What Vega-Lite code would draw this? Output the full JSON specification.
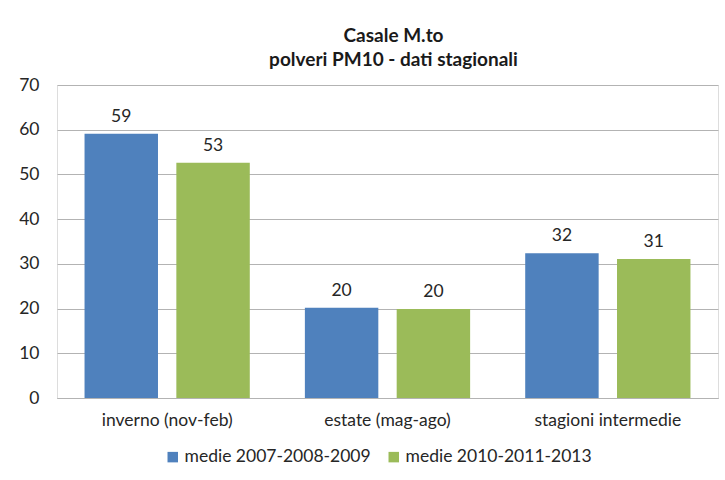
{
  "$schema": "https://vega.github.io/schema/vega-lite/v6.json",
  "autosize": {"type": "none"},
  "padding": {"left": 57, "top": 85, "right": 7, "bottom": 82},
  "width": 661,
  "height": 313,
  "background": "white",
  "title": {
    "text": ["Casale M.to", "polveri PM10 - dati stagionali"],
    "font": "Lato",
    "fontSize": 19,
    "fontWeight": "bold",
    "color": "#1a1a1a",
    "lineHeight": 24,
    "anchor": "middle",
    "offset": 6,
    "dx": 6
  },
  "data": {
    "values": [
      {"stagione": "inverno (nov-feb)", "serie": "medie 2007-2008-2009", "valore": 59.1},
      {"stagione": "inverno (nov-feb)", "serie": "medie 2010-2011-2013", "valore": 52.6},
      {"stagione": "estate (mag-ago)", "serie": "medie 2007-2008-2009", "valore": 20.2},
      {"stagione": "estate (mag-ago)", "serie": "medie 2010-2011-2013", "valore": 19.9},
      {"stagione": "stagioni intermedie", "serie": "medie 2007-2008-2009", "valore": 32.4},
      {"stagione": "stagioni intermedie", "serie": "medie 2010-2011-2013", "valore": 31.1}
    ]
  },
  "encoding": {
    "x": {
      "field": "stagione",
      "type": "nominal",
      "sort": ["inverno (nov-feb)", "estate (mag-ago)", "stagioni intermedie"],
      "scale": {"paddingInner": 0.25, "paddingOuter": 0.125},
      "axis": {
        "title": null,
        "labelAngle": 0,
        "ticks": false,
        "domainColor": "#b3b3b3",
        "domainWidth": 1,
        "labelPadding": 13,
        "labelFont": "Lato",
        "labelFontSize": 17.5,
        "labelColor": "#262626",
        "labelLimit": 300
      }
    },
    "xOffset": {
      "field": "serie",
      "type": "nominal",
      "scale": {"paddingInner": 0.2}
    },
    "y": {
      "field": "valore",
      "type": "quantitative",
      "scale": {"domain": [0, 70]},
      "axis": {
        "title": null,
        "values": [0, 10, 20, 30, 40, 50, 60, 70],
        "ticks": false,
        "domain": false,
        "gridColor": "#b3b3b3",
        "gridWidth": 1,
        "labelPadding": 18,
        "labelFont": "Lato",
        "labelFontSize": 17.5,
        "labelColor": "#262626"
      }
    }
  },
  "layer": [
    {
      "mark": {"type": "bar"},
      "encoding": {
        "color": {
          "field": "serie",
          "type": "nominal",
          "scale": {"range": ["#4F81BD", "#9BBB59"]},
          "legend": {
            "title": null,
            "orient": "none",
            "direction": "horizontal",
            "legendX": 107,
            "legendY": 363,
            "padding": 0,
            "symbolType": "square",
            "symbolSize": 110,
            "symbolStrokeWidth": 0,
            "columnPadding": 14,
            "labelFont": "Lato",
            "labelFontSize": 17.5,
            "labelColor": "#262626",
            "labelOffset": 3,
            "labelLimit": 300
          }
        }
      }
    },
    {
      "mark": {"type": "text", "baseline": "bottom", "dy": -8, "font": "Lato", "fontSize": 17.5, "color": "#262626"},
      "encoding": {
        "text": {"field": "valore", "type": "quantitative", "format": ".0f"}
      }
    }
  ]
}
